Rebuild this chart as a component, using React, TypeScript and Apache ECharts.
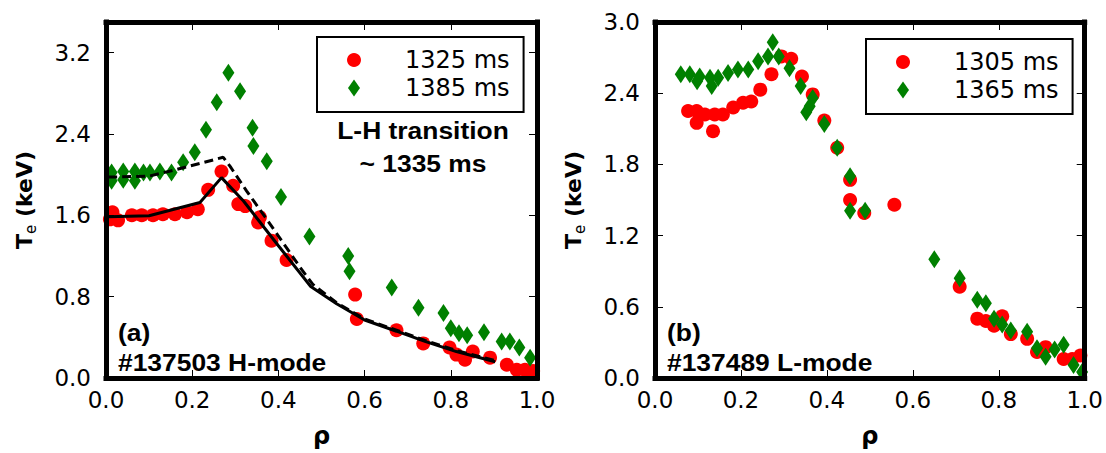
import React, { useEffect, useRef } from "react";
import * as echarts from "echarts";

// ---- Data: panel (a) #137503 H-mode ----
const red1325: number[][] = [
  [0.009, 1.56], [0.015, 1.63], [0.028, 1.55], [0.06, 1.6], [0.083, 1.6], [0.109, 1.6],
  [0.132, 1.61], [0.16, 1.61], [0.188, 1.63], [0.213, 1.66], [0.237, 1.85], [0.268, 2.03],
  [0.295, 1.89], [0.307, 1.71], [0.323, 1.69], [0.357, 1.58], [0.353, 1.53], [0.384, 1.35],
  [0.419, 1.16], [0.578, 0.82], [0.582, 0.58], [0.674, 0.47], [0.736, 0.34], [0.797, 0.3],
  [0.813, 0.23], [0.833, 0.18], [0.851, 0.26], [0.891, 0.2], [0.93, 0.13], [0.953, 0.08],
  [0.972, 0.08], [0.991, 0.07],
];
const green1385: number[][] = [
  [0.013, 2.02], [0.013, 1.94], [0.04, 2.03], [0.04, 1.95], [0.067, 2.03], [0.067, 1.94],
  [0.087, 2.02], [0.102, 2.02], [0.125, 2.03], [0.152, 2.02], [0.179, 2.12], [0.206, 2.22],
  [0.232, 2.44], [0.257, 2.71], [0.284, 3.0], [0.311, 2.82], [0.34, 2.46], [0.342, 2.28],
  [0.373, 2.13], [0.406, 1.78], [0.472, 1.39], [0.562, 1.2], [0.565, 1.05], [0.663, 0.89],
  [0.725, 0.69], [0.783, 0.64], [0.8, 0.49], [0.819, 0.44], [0.838, 0.42], [0.877, 0.45],
  [0.918, 0.36], [0.937, 0.36], [0.959, 0.3], [0.984, 0.2],
];
const solidFit: number[][] = [
  [0.005, 1.585], [0.1, 1.595], [0.218, 1.725], [0.268, 1.97], [0.319, 1.74], [0.4, 1.3],
  [0.475, 0.9], [0.535, 0.73], [0.6, 0.57], [0.674, 0.46], [0.74, 0.36], [0.813, 0.26], [0.903, 0.16],
];
const dashedFit: number[][] = [
  [0.005, 1.975], [0.1, 1.985], [0.164, 2.05], [0.218, 2.11], [0.272, 2.17], [0.288, 2.08],
  [0.326, 1.84], [0.373, 1.56], [0.45, 1.09], [0.48, 0.92], [0.535, 0.74], [0.6, 0.58],
  [0.674, 0.47], [0.74, 0.37], [0.813, 0.27], [0.903, 0.17],
];

// ---- Data: panel (b) #137489 L-mode ----
const red1305: number[][] = [
  [0.077, 2.25], [0.097, 2.25], [0.097, 2.15], [0.116, 2.22], [0.135, 2.08], [0.139, 2.22],
  [0.158, 2.22], [0.182, 2.28], [0.205, 2.32], [0.224, 2.33], [0.245, 2.43], [0.271, 2.56],
  [0.294, 2.71], [0.317, 2.69], [0.342, 2.54], [0.367, 2.39], [0.394, 2.17], [0.424, 1.94],
  [0.454, 1.67], [0.454, 1.5], [0.487, 1.39], [0.557, 1.46], [0.709, 0.77], [0.75, 0.5],
  [0.77, 0.48], [0.789, 0.44], [0.808, 0.52], [0.828, 0.37], [0.866, 0.33], [0.889, 0.22],
  [0.909, 0.26], [0.951, 0.16], [0.971, 0.16], [0.99, 0.19],
];
const green1365: number[][] = [
  [0.06, 2.56], [0.081, 2.56], [0.098, 2.5], [0.104, 2.54], [0.128, 2.53], [0.132, 2.46],
  [0.147, 2.53], [0.17, 2.57], [0.193, 2.6], [0.217, 2.6], [0.24, 2.67], [0.263, 2.71],
  [0.274, 2.83], [0.288, 2.71], [0.313, 2.61], [0.339, 2.46], [0.352, 2.24], [0.36, 2.29],
  [0.367, 2.36], [0.394, 2.14], [0.424, 1.94], [0.454, 1.7], [0.454, 1.41], [0.489, 1.41],
  [0.65, 1.0], [0.709, 0.84], [0.75, 0.66], [0.77, 0.63], [0.789, 0.5], [0.808, 0.45],
  [0.828, 0.4], [0.866, 0.39], [0.889, 0.25], [0.909, 0.18], [0.93, 0.24], [0.951, 0.28],
  [0.974, 0.11], [0.994, 0.05],
];

const xTickValues = [0, 0.2, 0.4, 0.6, 0.8, 1.0];
const leftYTicks = [0, 0.8, 1.6, 2.4, 3.2];
const rightYTicks = [0, 0.6, 1.2, 1.8, 2.4, 3.0];

const DIAMOND = "path://M6,0L12,8.5L6,17L0,8.5Z";
const RED = "#ff0000";
const GREEN = "#008000";
const TICK_FONT = "DejaVu Sans";
const ANNOT_FONT = "Liberation Sans";

function isTick(v: number, ticks: number[]) {
  return ticks.some((t) => Math.abs(t - v) < 1e-6);
}

function makeAxes(gridIndex: number, yMax: number, yInterval: number, yTicks: number[]) {
  const frameLine = { show: true, onZero: false, lineStyle: { color: "#000", width: 5, cap: "square" } };
  const tick = { show: true, inside: true, length: 8, lineStyle: { color: "#000", width: 1 } };
  const labelBase = { color: "#000", fontSize: 23, fontFamily: TICK_FONT };
  const x = [
    {
      type: "value", gridIndex, min: 0, max: 1, interval: 0.2, position: "bottom", z: 10,
      axisLine: frameLine, axisTick: tick, splitLine: { show: false },
      axisLabel: {
        ...labelBase, margin: 10,
        formatter: (v: number) => (isTick(v, xTickValues) ? v.toFixed(1) : ""),
      },
      name: "ρ", nameLocation: "middle", nameGap: 46,
      nameTextStyle: { fontSize: 24, fontWeight: "bold", fontFamily: TICK_FONT, color: "#000" },
    },
    {
      type: "value", gridIndex, min: 0, max: 1, interval: 0.2, position: "top", z: 10,
      axisLine: frameLine, axisTick: tick, splitLine: { show: false }, axisLabel: { show: false },
    },
  ];
  const y = [
    {
      type: "value", gridIndex, min: 0, max: yMax, interval: yInterval, position: "left", z: 10,
      axisLine: frameLine, axisTick: tick, splitLine: { show: false },
      axisLabel: {
        ...labelBase, margin: 15,
        formatter: (v: number) => (isTick(v, yTicks) ? v.toFixed(1) : ""),
      },
      name: "{t|T}{s|e}{t| (keV)}", nameLocation: "middle", nameGap: 68,
      nameTextStyle: {
        color: "#000", fontFamily: TICK_FONT, fontWeight: "bold", fontSize: 22,
        rich: {
          t: { fontSize: 22, fontWeight: "bold", fontFamily: TICK_FONT, color: "#000", lineHeight: 26, verticalAlign: "bottom", padding: [0, 0, 3, 0] },
          s: { fontSize: 15, fontWeight: "normal", fontFamily: TICK_FONT, color: "#000", lineHeight: 16, verticalAlign: "bottom" },
        },
      },
    },
    {
      type: "value", gridIndex, min: 0, max: yMax, interval: yInterval, position: "right", z: 10,
      axisLine: frameLine, axisTick: tick, splitLine: { show: false }, axisLabel: { show: false },
    },
  ];
  return { x, y };
}

function scatter(name: string, data: number[][], panel: number, color: string, diamond: boolean, z: number) {
  return {
    type: "scatter", name, data, xAxisIndex: panel * 2, yAxisIndex: panel * 2,
    symbol: diamond ? DIAMOND : "circle", symbolSize: diamond ? [12, 18] : 14,
    itemStyle: { color, opacity: 1 }, z, clip: false, emphasis: { disabled: true },
  };
}

function lineSeries(name: string, data: number[][], dashed: boolean) {
  return {
    type: "line", name, data, xAxisIndex: 0, yAxisIndex: 0, symbol: "none", showSymbol: false,
    lineStyle: { color: "#000", width: 3, type: dashed ? [9, 5] : "solid" }, z: 5, silent: true,
    emphasis: { disabled: true },
  };
}

function legendAt(left: number, top: number, names: string[]) {
  return {
    show: true, orient: "vertical", left, top, data: names,
    itemWidth: 14, itemHeight: 17, itemGap: 2,
    padding: [10, 14, 11, 30], borderColor: "#000", borderWidth: 2, backgroundColor: "#fff",
    selectedMode: false,
    textStyle: { color: "#000", fontSize: 24, fontFamily: TICK_FONT, lineHeight: 26, padding: [0, 0, 0, 39] },
  };
}

function annot(text: string, x: number, y: number, align: string) {
  return {
    type: "text", x, y, scaleX: 1.1, z: 20,
    style: {
      text, fill: "#000", fontSize: 24, fontWeight: "bold", fontFamily: ANNOT_FONT,
      align, textAlign: align, verticalAlign: "middle", textVerticalAlign: "middle",
    },
  };
}

export default function App() {
  const ref = useRef<HTMLDivElement>(null);
  useEffect(() => {
    document.body.style.margin = "0";
    if (!ref.current) return;
    const chart = echarts.init(ref.current, undefined, { renderer: "svg" });
    const a = makeAxes(0, 3.5, 0.8, leftYTicks);
    const b = makeAxes(1, 3.0, 0.6, rightYTicks);
    chart.setOption({
      animation: false,
      backgroundColor: "#fff",
      grid: [
        { left: 106, top: 22, width: 431, height: 360, show: false },
        { left: 655, top: 22, width: 431, height: 360, show: false },
      ],
      xAxis: [...a.x, ...b.x],
      yAxis: [...a.y, ...b.y],
      legend: [
        legendAt(317, 37, ["1325 ms", "1385 ms"]),
        legendAt(866, 39, ["1305 ms", "1365 ms"]),
      ],
      series: [
        scatter("1325 ms", red1325, 0, RED, false, 2),
        scatter("1385 ms", green1385, 0, GREEN, true, 3),
        lineSeries("fit solid", solidFit, false),
        lineSeries("fit dashed", dashedFit, true),
        scatter("1305 ms", red1305, 1, RED, false, 2),
        scatter("1365 ms", green1365, 1, GREEN, true, 3),
      ],
      graphic: [
        annot("L-H transition", 423, 130, "center"),
        annot("~ 1335 ms", 423, 163, "center"),
        annot("(a)", 118, 332, "left"),
        annot("#137503 H-mode", 118, 362, "left"),
        annot("(b)", 667, 332, "left"),
        annot("#137489 L-mode", 667, 362, "left"),
      ],
    });
    return () => chart.dispose();
  }, []);
  return <div ref={ref} style={{ width: 1106, height: 453 }} />;
}
